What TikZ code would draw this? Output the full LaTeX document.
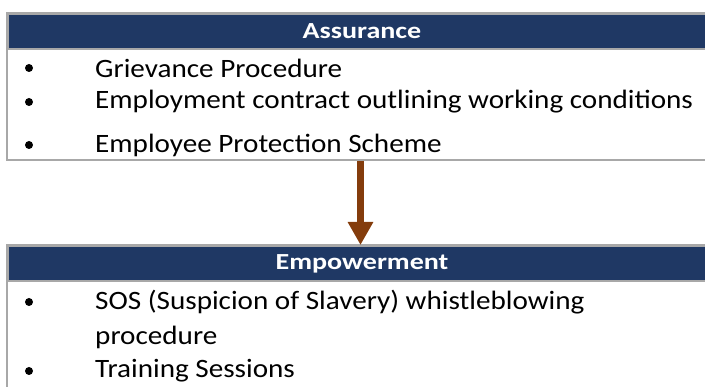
\documentclass[tikz,border=0pt]{standalone}
\usepackage{fontspec}
\setmainfont{Carlito}[FakeStretch=1.10]
\newfontfamily\headfont{Carlito}[FakeStretch=1.22]
\usetikzlibrary{arrows.meta}
\definecolor{header navy}{RGB}{31,56,100}
\definecolor{arrow brown}{RGB}{132,60,12}
\definecolor{frame gray}{RGB}{168,168,168}

\begin{document}
\begin{tikzpicture}[x=1pt, y=-1pt,
	header/.style={fill=header navy, draw=frame gray, line width=2pt, anchor=north west,
		minimum width=708pt, minimum height=35pt, inner sep=0pt, text=white,
		font=\headfont\fontsize{23}{26}\selectfont\bfseries},
	item/.style={anchor=west, inner sep=0pt, font=\fontsize{26.5}{30}\selectfont},
	bullet/.style={circle, fill=black, inner sep=0pt, minimum size=8pt}]
	\useasboundingbox (0,0) rectangle (705,387);
	\clip (0,0) rectangle (705,387);
	% box for Assurance
	\begin{scope}
		\draw[frame gray, line width=2pt] (7,13) rectangle (715,160);
		\node[header] (assurance) at (7,13) {Assurance};
		\foreach \y/\name/\txt in {68/grievance/Grievance Procedure,
			102/contract/Employment contract outlining working conditions,
			145/protection/Employee Protection Scheme}
		{
			\node[bullet] (\name-dot) at (29,\y) {};
			\node[item] (\name) at (95,\y) {\txt};
		}
	\end{scope}
	% box for Empowerment
	\begin{scope}
		\draw[frame gray, line width=2pt] (7,245) rectangle (715,400);
		\node[header] (empowerment) at (7,245) {Empowerment};
		\foreach \y/\name/\txt in {302/sos/SOS (Suspicion of Slavery) whistleblowing,
			371/training/Training Sessions}
		{
			\node[bullet] (\name-dot) at (29,\y) {};
			\node[item] (\name) at (95,\y) {\txt};
		}
		\node[item] (sos-more) at (95,337) {procedure};
	\end{scope}
	% arrow
	\coordinate (box-bottom) at (360.5,161);
	\draw[arrow brown, line width=7.5pt, -{Triangle[width=24pt,length=23pt]}]
		(box-bottom) -- (empowerment.north -| box-bottom);
\end{tikzpicture}
\end{document}
